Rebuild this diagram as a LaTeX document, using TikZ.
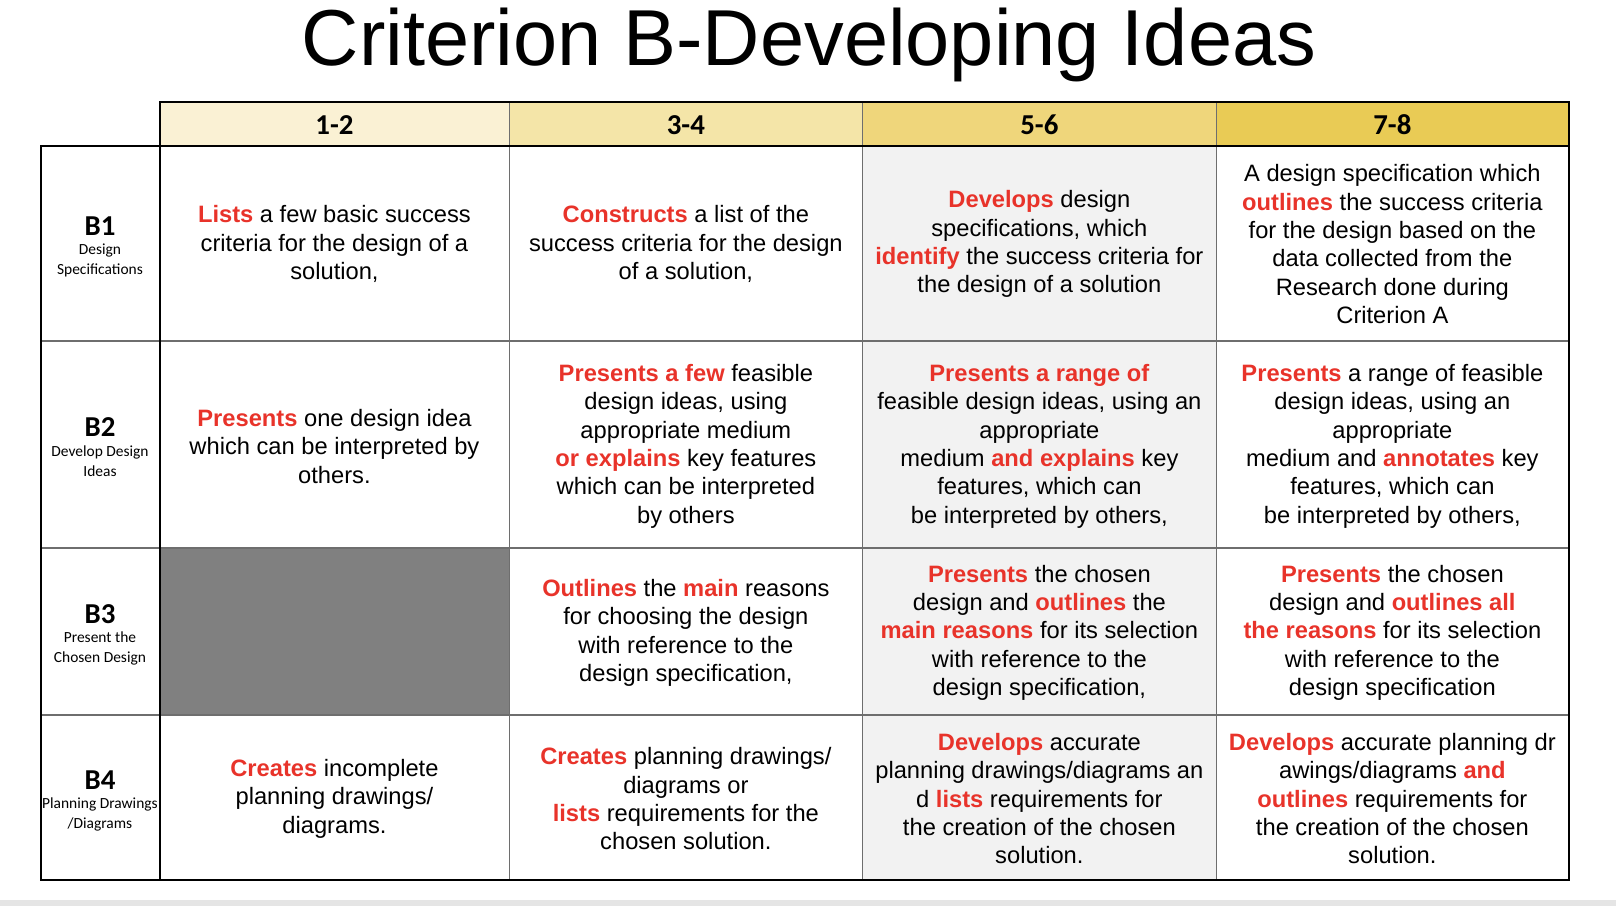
\documentclass[tikz,border=0pt]{standalone}
\usepackage{fontspec}
\setmainfont{Liberation Sans}
\newfontfamily\calib{Carlito}
\usepackage{tikz}
\usetikzlibrary{positioning}

\definecolor{critred}{RGB}{232,51,42}
\definecolor{headA}{RGB}{250,241,212}
\definecolor{headB}{RGB}{244,229,168}
\definecolor{headC}{RGB}{239,214,123}
\definecolor{headD}{RGB}{233,203,85}
\definecolor{cellgray}{RGB}{242,242,242}
\definecolor{blockgray}{RGB}{128,128,128}
\definecolor{rulegray}{RGB}{110,110,110}

\newcommand{\kw}[1]{\textbf{\color{critred}#1}}

\tikzset{
  cell/.style={align=center, inner sep=0pt, font=\fontsize{11.5}{13.75}\selectfont},
  head/.style={inner sep=0pt, font=\calib\bfseries\fontsize{14}{16}\selectfont},
  rowlab/.style={inner sep=0pt, font=\calib\bfseries\fontsize{14}{16}\selectfont},
  rowsub/.style={align=center, inner sep=0pt, font=\calib\fontsize{7.5}{9.5}\selectfont}
}

\begin{document}
\begin{tikzpicture}[x=0.5pt, y=-0.5pt]
\useasboundingbox (0,0) rectangle (1568,879);
\fill[gray!20] (0,873) rectangle (1568,879);

% Title
\node[anchor=base, inner sep=0pt, font=\fontsize{38.5}{40}\selectfont] (title) at (785,64) {Criterion B-Developing Ideas};

% Header row
\foreach \xa/\xb/\lab/\col [count=\i] in {155/494/1-2/headA, 494/837/3-4/headB, 837/1180/5-6/headC, 1180/1522/7-8/headD} {
    \fill[\col] (\xa,99) rectangle (\xb,142);
    \node[head] (h\i) at ({(\xa+\xb)/2},121) {\lab};
}

% Shaded cells
\fill[cellgray] (837,142) rectangle (1180,854);
\fill[blockgray] (155,532) rectangle (494,694);

% Grid
\foreach \y in {331,532,694} {
    \draw[rulegray, line width=0.8pt] (40,\y) -- (1522,\y);
}
\foreach \x in {494,837,1180} {
    \draw[rulegray, line width=0.6pt] (\x,99) -- (\x,854);
}
\draw[line width=1pt] (155,99) rectangle (1522,142);
\draw[line width=1pt] (40,142) rectangle (1522,854);
\draw[line width=1pt] (155,142) -- (155,854);

% Row labels
\foreach \y/\lab/\sub [count=\i] in {236.5/B1/{Design\\Specifications}, 431.5/B2/{Develop Design\\Ideas}, 613/B3/{Present the\\Chosen Design}, 774/B4/{Planning Drawings\\/Diagrams}} {
    \node[rowlab] (b\i) at (97,\y-17) {\lab};
    \node[rowsub] (s\i) at (97,\y+16) {\sub};
}

% B1
\node[cell] (c11) at (324.5,237) {\kw{Lists} a few basic success\\criteria for the design of a\\solution,};
\node[cell] (c12) at (665.5,237) {\kw{Constructs} a list of the\\success criteria for the design\\of a solution,};
\node[cell] (c13) at (1008.5,237) {\kw{Develops} design\\specifications, which\\\kw{identify} the success criteria for\\the design of a solution};
\node[cell] (c14) at (1351,237) {A design specification which\\\kw{outlines} the success criteria\\for the design based on the\\data collected from the\\Research done during\\Criterion A};

% B2
\node[cell] (c21) at (324.5,433) {\kw{Presents} one design idea\\which can be interpreted by\\others.};
\node[cell] (c22) at (665.5,433) {\kw{Presents a few} feasible\\design ideas, using\\appropriate medium\\\kw{or explains} key features\\which can be interpreted\\by others};
\node[cell] (c23) at (1008.5,433) {\kw{Presents a range of}\\feasible design ideas, using an\\appropriate\\medium \kw{and explains} key\\features, which can\\be interpreted by others,};
\node[cell] (c24) at (1351,433) {\kw{Presents} a range of feasible\\design ideas, using an\\appropriate\\medium and \kw{annotates} key\\features, which can\\be interpreted by others,};

% B3
\node[cell] (c32) at (665.5,614) {\kw{Outlines} the \kw{main} reasons\\for choosing the design\\with reference to the\\design specification,};
\node[cell] (c33) at (1008.5,614) {\kw{Presents} the chosen\\design and \kw{outlines} the\\\kw{main reasons} for its selection\\with reference to the\\design specification,};
\node[cell] (c34) at (1351,614) {\kw{Presents} the chosen\\design and \kw{outlines all}\\\kw{the reasons} for its selection\\with reference to the\\design specification};

% B4
\node[cell] (c41) at (324.5,775) {\kw{Creates} incomplete\\planning drawings/\\diagrams.};
\node[cell] (c42) at (665.5,775) {\kw{Creates} planning drawings/\\diagrams or\\\kw{lists} requirements for the\\chosen solution.};
\node[cell] (c43) at (1008.5,775) {\kw{Develops} accurate\\planning drawings/diagrams an\\d \kw{lists} requirements for\\the creation of the chosen\\solution.};
\node[cell] (c44) at (1351,775) {\kw{Develops} accurate planning dr\\awings/diagrams \kw{and}\\\kw{outlines} requirements for\\the creation of the chosen\\solution.};

\end{tikzpicture}
\end{document}
